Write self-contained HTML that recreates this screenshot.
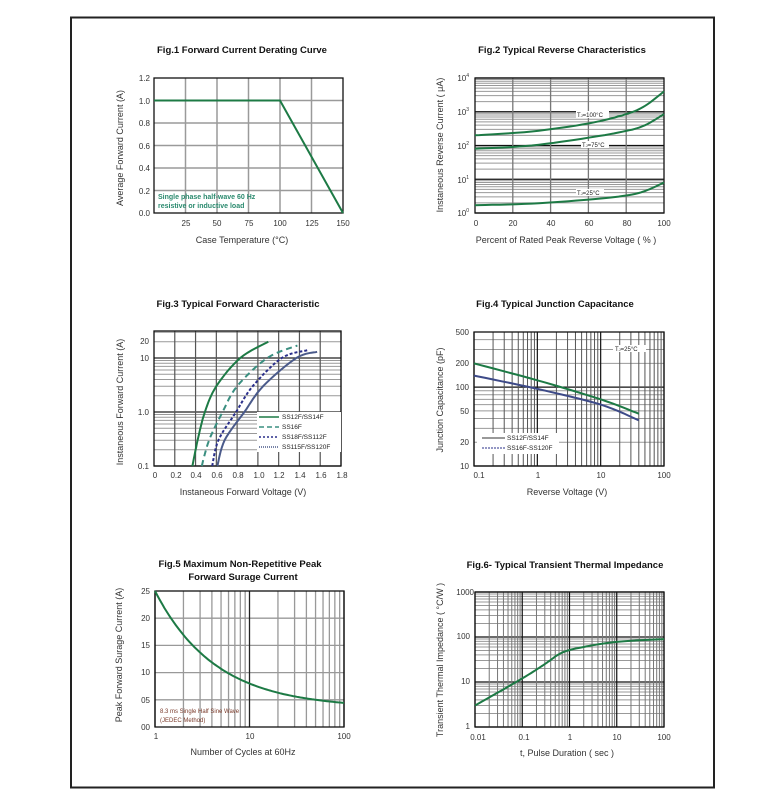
<!DOCTYPE html>
<html><head><meta charset="utf-8"><style>
body{margin:0;background:#fff;width:784px;height:809px;overflow:hidden}
svg{display:block}
text{font-family:"Liberation Sans",sans-serif}
.t{font-weight:bold;font-size:9.5px;fill:#111;text-anchor:middle}
.k{font-size:8px;fill:#333}
.a{font-size:9px;fill:#333;text-anchor:middle}
</style></head><body>
<svg id="s" width="784" height="809" viewBox="0 0 784 809">
<rect x="71" y="17.5" width="643" height="770" fill="none" stroke="#222" stroke-width="2"/>
<g id="g"></g>
<text class="t" x="242" y="53">Fig.1  Forward Current Derating Curve</text>
<text class="t" x="562" y="53">Fig.2  Typical Reverse Characteristics</text>
<text class="t" x="238" y="307">Fig.3  Typical Forward Characteristic</text>
<text class="t" x="555" y="307">Fig.4  Typical Junction Capacitance</text>
<text class="t" x="240" y="567">Fig.5  Maximum Non-Repetitive Peak</text>
<text class="t" x="243" y="580">Forward Surage Current</text>
<text class="t" x="565" y="568">Fig.6- Typical Transient Thermal Impedance</text>
<text class="a" x="242" y="243">Case Temperature (°C)</text>
<text class="a" x="566" y="243">Percent of Rated Peak Reverse Voltage ( % )</text>
<text class="a" x="243" y="495">Instaneous Forward Voltage (V)</text>
<text class="a" x="567" y="495">Reverse  Voltage (V)</text>
<text class="a" x="243" y="755">Number of Cycles at 60Hz</text>
<text class="a" x="567" y="756">t, Pulse Duration ( sec )</text>
<text class="a" transform="translate(123,148) rotate(-90)">Average Forward Current (A)</text>
<text class="a" transform="translate(443,145) rotate(-90)">Instaneous Reverse Current ( μA)</text>
<text class="a" transform="translate(123,402) rotate(-90)">Instaneous Forward Current  (A)</text>
<text class="a" transform="translate(443,400) rotate(-90)">Junction Capacitance (pF)</text>
<text class="a" transform="translate(122,655) rotate(-90)">Peak Forward Surage Current (A)</text>
<text class="a" transform="translate(443,660) rotate(-90)">Transient Thermal Impedance ( °C/W )</text>
<g class="k" text-anchor="end">
<text x="150" y="81">1.2</text><text x="150" y="104">1.0</text><text x="150" y="126">0.8</text><text x="150" y="149">0.6</text><text x="150" y="171">0.4</text><text x="150" y="194">0.2</text><text x="150" y="216">0.0</text>
</g>
<g class="k" text-anchor="middle">
<text x="186" y="226">25</text><text x="217" y="226">50</text><text x="249" y="226">75</text><text x="280" y="226">100</text><text x="312" y="226">125</text><text x="343" y="226">150</text>
</g>
<text x="158" y="199" font-size="7" font-weight="bold" fill="#2a8a6e">Single phase half-wave 60 Hz</text>
<text x="158" y="208" font-size="7" font-weight="bold" fill="#2a8a6e">resistive or inductive load</text>
<g class="k" text-anchor="end">
<text x="469" y="81">10<tspan font-size="5" dy="-4">4</tspan></text>
<text x="469" y="115">10<tspan font-size="5" dy="-4">3</tspan></text>
<text x="469" y="149">10<tspan font-size="5" dy="-4">2</tspan></text>
<text x="469" y="183">10<tspan font-size="5" dy="-4">1</tspan></text>
<text x="469" y="216">10<tspan font-size="5" dy="-4">0</tspan></text>
</g>
<g class="k" text-anchor="middle">
<text x="476" y="226">0</text><text x="513" y="226">20</text><text x="551" y="226">40</text><text x="589" y="226">60</text><text x="627" y="226">80</text><text x="664" y="226">100</text>
</g>
<g class="k" text-anchor="end">
<text x="149" y="344">20</text><text x="149" y="361">10</text><text x="149" y="415">1.0</text><text x="149" y="469">0.1</text>
</g>
<g class="k" text-anchor="middle">
<text x="155" y="478">0</text><text x="176" y="478">0.2</text><text x="196" y="478">0.4</text><text x="217" y="478">0.6</text><text x="238" y="478">0.8</text><text x="259" y="478">1.0</text><text x="279" y="478">1.2</text><text x="300" y="478">1.4</text><text x="321" y="478">1.6</text><text x="342" y="478">1.8</text>
</g>
<g class="k" text-anchor="end">
<text x="469" y="335">500</text><text x="469" y="366">200</text><text x="469" y="390">100</text><text x="469" y="414">50</text><text x="469" y="445">20</text><text x="469" y="469">10</text>
</g>
<g class="k" text-anchor="middle">
<text x="479" y="478">0.1</text><text x="538" y="478">1</text><text x="601" y="478">10</text><text x="664" y="478">100</text>
</g>
<g class="k" text-anchor="end">
<text x="150" y="594">25</text><text x="150" y="621">20</text><text x="150" y="648">15</text><text x="150" y="675">10</text><text x="150" y="703">05</text><text x="150" y="730">00</text>
</g>
<g class="k" text-anchor="middle">
<text x="156" y="739">1</text><text x="250" y="739">10</text><text x="344" y="739">100</text>
</g>
<text x="160" y="713" font-size="6" fill="#7a3a2a">8.3 ms Single Half Sine Wave</text>
<text x="160" y="722" font-size="6" fill="#7a3a2a">(JEDEC Method)</text>
<g class="k" text-anchor="end">
<text x="474" y="595">1000</text><text x="470" y="639">100</text><text x="470" y="684">10</text><text x="470" y="729">1</text>
</g>
<g class="k" text-anchor="middle">
<text x="478" y="740">0.01</text><text x="524" y="740">0.1</text><text x="570" y="740">1</text><text x="617" y="740">10</text><text x="664" y="740">100</text>
</g>
<g id="ov"></g>
<rect x="576" y="111" width="33" height="7" fill="#fff"/>
<text x="577" y="117" font-size="6" fill="#222">T<tspan font-size="4">J</tspan>=100°C</text>
<rect x="581" y="141" width="28" height="7" fill="#fff"/>
<text x="582" y="147" font-size="6" fill="#222">T<tspan font-size="4">J</tspan>=75°C</text>
<rect x="576" y="189" width="28" height="7" fill="#fff"/>
<text x="577" y="195" font-size="6" fill="#222">T<tspan font-size="4">J</tspan>=25°C</text>
<rect x="613" y="345" width="33" height="7" fill="#fff"/>
<text x="615" y="351" font-size="6" fill="#222">T<tspan font-size="4">J</tspan>=25°C</text>
<rect x="257" y="412" width="84" height="40" fill="#fff"/>
<line x1="259" y1="417" x2="279" y2="417" stroke="#1d7a45" stroke-width="1.5"/>
<line x1="259" y1="427" x2="279" y2="427" stroke="#3a8f80" stroke-width="1.5" stroke-dasharray="5,3"/>
<line x1="259" y1="437" x2="279" y2="437" stroke="#2a2f8a" stroke-width="1.5" stroke-dasharray="2,2"/>
<line x1="259" y1="447" x2="279" y2="447" stroke="#4a5a8a" stroke-width="1.5" stroke-dasharray="1,1"/>
<g font-size="6.5" fill="#222">
<text x="282" y="419">SS12F/SS14F</text><text x="282" y="429">SS16F</text><text x="282" y="439">SS18F/SS112F</text><text x="282" y="449">SS115F/SS120F</text>
</g>
<rect x="477" y="433" width="82" height="21" fill="#fff"/>
<line x1="482" y1="438" x2="505" y2="438" stroke="#333" stroke-width="1"/>
<line x1="482" y1="448" x2="505" y2="448" stroke="#2a2f8a" stroke-width="1" stroke-dasharray="2,1"/>
<g font-size="6.5" fill="#222"><text x="507" y="440">SS12F/SS14F</text><text x="507" y="450">SS16F-SS120F</text></g>
</svg>
<script>
var NS="http://www.w3.org/2000/svg",g=document.getElementById('g'),ov=document.getElementById('ov');
function L(p,x1,y1,x2,y2,c,w,d){var e=document.createElementNS(NS,'line');e.setAttribute('x1',x1);e.setAttribute('y1',y1);e.setAttribute('x2',x2);e.setAttribute('y2',y2);e.setAttribute('stroke',c);e.setAttribute('stroke-width',w);if(d)e.setAttribute('stroke-dasharray',d);p.appendChild(e);}
function P(pts,c,w,d){var e=document.createElementNS(NS,'polyline');e.setAttribute('points',pts.map(function(p){return p[0].toFixed(1)+','+p[1].toFixed(1)}).join(' '));e.setAttribute('fill','none');e.setAttribute('stroke',c);e.setAttribute('stroke-width',w);if(d)e.setAttribute('stroke-dasharray',d);ov.appendChild(e);}
function box(x0,y0,x1,y1){var e=document.createElementNS(NS,'rect');e.setAttribute('x',x0);e.setAttribute('y',y0);e.setAttribute('width',x1-x0);e.setAttribute('height',y1-y0);e.setAttribute('fill','none');e.setAttribute('stroke','#111');e.setAttribute('stroke-width',1.3);ov.appendChild(e);}
function logs(a,b){var r=[];for(var d=a;d<b;d++)for(var m=1;m<10;m++)r.push([d+Math.log10(m),m==1]);r.push([b,true]);return r;}
function interp(pts,n){var out=[];for(var i=0;i<pts.length-1;i++){var p0=pts[Math.max(i-1,0)],p1=pts[i],p2=pts[i+1],p3=pts[Math.min(i+2,pts.length-1)];for(var t=0;t<1;t+=1/n){var t2=t*t,t3=t2*t;var f=function(a,b,c,d){return 0.5*(2*b+(-a+c)*t+(2*a-5*b+4*c-d)*t2+(-a+3*b-3*c+d)*t3)};out.push([f(p0[0],p1[0],p2[0],p3[0]),f(p0[1],p1[1],p2[1],p3[1])]);}}out.push(pts[pts.length-1]);return out;}
var G='#1d7a45',GR='#9a9a9a';
(function(){var x0=154,x1=343,y0=78,y1=213;
for(var v=25;v<150;v+=25){var x=x0+(x1-x0)*v/150;L(g,x,y0,x,y1,GR,1.5);}
for(var v=0.2;v<1.2;v+=0.2){var y=y1-(y1-y0)*v/1.2;L(g,x0,y,x1,y,GR,1.5);}
box(x0,y0,x1,y1);var Y=y1-(y1-y0)/1.2;
P([[x0,Y],[280,Y],[x1,y1]],G,2);})();
(function(){var x0=475,x1=664,y0=78,y1=213,dy=(y1-y0)/4;
logs(0,4).forEach(function(a){var y=y1-a[0]*dy;L(g,x0,y,x1,y,a[1]?'#111':'#999',a[1]?1.2:1);});
for(var v=20;v<100;v+=20){var x=x0+(x1-x0)*v/100;L(g,x,y0,x,y1,'#777',1.3);}
box(x0,y0,x1,y1);
function c(pts){P(interp(pts.map(function(p){return[x0+(x1-x0)*p[0]/100,y1-Math.log10(p[1])*dy]}),8),G,2);}
c([[0,200],[30,260],[60,450],[80,850],[90,1500],[100,4000]]);
c([[0,80],[30,100],[60,170],[80,270],[90,400],[100,850]]);
c([[0,1.7],[30,1.9],[60,2.5],[80,3.3],[90,4.5],[100,8]]);})();
(function(){var x0=154,x1=341,y0=331,y1=466,dy=54;
logs(-1,1).concat([[Math.log10(20),false],[Math.log10(30),false]]).forEach(function(a){var y=y1-(a[0]+1)*dy;if(y>=y0)L(g,x0,y,x1,y,a[1]?'#222':'#999',a[1]?1.2:1);});
for(var v=0.2;v<1.8;v+=0.2){var x=x0+(x1-x0)*v/1.8;L(g,x,y0,x,y1,'#555',1.2);}
box(x0,y0,x1,y1);
function c(pts,col,d){P(interp(pts.map(function(p){return[x0+(x1-x0)*p[0]/1.8,y1-(Math.log10(p[1])+1)*dy]}),8),col,2,d);}
c([[0.37,0.1],[0.42,0.3],[0.49,1],[0.6,3],[0.83,10],[1.1,20]],G);
c([[0.46,0.1],[0.53,0.3],[0.66,1],[0.8,3],[1.09,10],[1.38,17]],'#3a8f80','6,4');
c([[0.56,0.1],[0.62,0.3],[0.79,1],[0.95,3],[1.23,10],[1.48,14]],'#2a2f8a','3,2');
c([[0.61,0.1],[0.68,0.3],[0.87,1],[1.05,3],[1.37,10],[1.57,13]],'#4a5a8a');})();
(function(){var x0=474,x1=664,y0=332,y1=466,dx=(x1-x0)/3,dy=(y1-y0)/Math.log10(50);
logs(1,3).forEach(function(a){if(a[0]<=Math.log10(500)+0.001){var y=y1-(a[0]-1)*dy;L(g,x0,y,x1,y,a[1]?'#111':'#999',a[1]?1.2:1);}});
logs(-1,2).forEach(function(a){var x=x0+(a[0]+1)*dx;L(g,x,y0,x,y1,a[1]?'#111':'#555',a[1]?1.2:1);});
box(x0,y0,x1,y1);
function c(pts,col){P(interp(pts.map(function(p){return[x0+(Math.log10(p[0])+1)*dx,y1-(Math.log10(p[1])-1)*dy]}),8),col,2);}
c([[0.1,200],[1,122],[10,70],[40,46]],G);c([[0.1,140],[1,95],[10,60],[40,38]],'#3d4a88');})();
(function(){var x0=155,x1=344,y0=591,y1=727,dx=(x1-x0)/2;
for(var v=5;v<25;v+=5){var y=y1-(y1-y0)*v/25;L(g,x0,y,x1,y,'#999',1.3);}
logs(0,2).forEach(function(a){var x=x0+a[0]*dx;L(g,x,y0,x,y1,a[1]?'#222':'#999',1.3);});
box(x0,y0,x1,y1);
var pts=[];for(var i=0;i<=100;i++){var l=i/50,n=Math.pow(10,l);var I=21.5*Math.pow(n,-0.68)+3.5;if(i==0)I=25;pts.push([x0+l*dx,y1-(y1-y0)*I/25]);}
P(pts,G,2);})();
(function(){var x0=475,x1=664,y0=592,y1=727,dx=(x1-x0)/4,dy=(y1-y0)/3;
logs(0,3).forEach(function(a){var y=y1-a[0]*dy;L(g,x0,y,x1,y,a[1]?'#111':'#999',a[1]?1.2:1);});
logs(-2,2).forEach(function(a){var x=x0+(a[0]+2)*dx;L(g,x,y0,x,y1,a[1]?'#111':'#777',a[1]?1.2:1);});
box(x0,y0,x1,y1);
P(interp([[0.01,3],[0.1,12],[0.3,25],[0.7,45],[2,60],[10,78],[100,90]].map(function(p){return[x0+(Math.log10(p[0])+2)*dx,y1-Math.log10(p[1])*dy]}),10),G,2);})();
</script>
</body></html>
